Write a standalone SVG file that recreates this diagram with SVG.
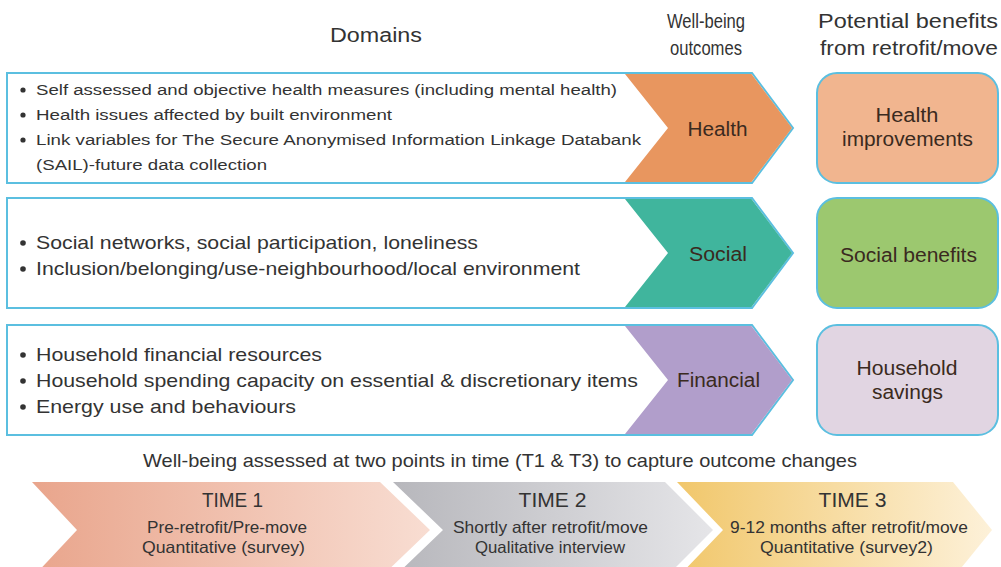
<svg xmlns="http://www.w3.org/2000/svg" width="1001" height="567" viewBox="0 0 1001 567">
<defs>
<style>
text{font-family:"Liberation Sans",Arial,sans-serif;fill:#333}
.hdr{font-size:20px;text-anchor:middle}
.b1{font-size:15.5px}
.b2{font-size:19px}
.lab{font-size:19.5px;text-anchor:middle;fill:#3a2a20}
.outline{fill:#fff;stroke:#5bbfe0;stroke-width:2}
.chev{stroke:none}
.ben{stroke:#5bbfe0;stroke-width:2}
.t{font-size:20px;text-anchor:middle}
.s{font-size:16.5px;text-anchor:middle}
.dot{fill:#333}
</style>
<linearGradient id="g1" x1="0" x2="1" y1="0" y2="0"><stop offset="0" stop-color="#e9a58c"/><stop offset="1" stop-color="#f8ddd2"/></linearGradient>
<linearGradient id="g2" x1="0" x2="1" y1="0" y2="0"><stop offset="0" stop-color="#b7b7bc"/><stop offset="1" stop-color="#e5e5e8"/></linearGradient>
<linearGradient id="g3" x1="0" x2="1" y1="0" y2="0"><stop offset="0" stop-color="#f1c76b"/><stop offset="1" stop-color="#fdf1d9"/></linearGradient>
</defs>
<rect width="1001" height="567" fill="#fff"/>
<g id="headers">
<text class="hdr" x="376" y="42" textLength="92" lengthAdjust="spacingAndGlyphs">Domains</text>
<text class="hdr" x="706" y="28" textLength="78" lengthAdjust="spacingAndGlyphs">Well-being</text>
<text class="hdr" x="706" y="55" textLength="72" lengthAdjust="spacingAndGlyphs">outcomes</text>
<text class="hdr" x="908" y="28" textLength="180" lengthAdjust="spacingAndGlyphs">Potential benefits</text>
<text class="hdr" x="909" y="55" textLength="178" lengthAdjust="spacingAndGlyphs">from retrofit/move</text>
</g>
<g id="row-health">
<path class="outline" d="M7 73 H752 L793 128 L752 183 H7 Z"/>
<path class="chev" fill="#e8965f" d="M625 74 H751.5 L792 128 L751.5 182 H625 L668 128 Z"/>
<circle class="dot" cx="23" cy="90" r="2.6"/>
<text class="b1" x="36" y="95" textLength="581" lengthAdjust="spacingAndGlyphs">Self assessed and objective health measures (including mental health)</text>
<circle class="dot" cx="23" cy="115" r="2.6"/>
<text class="b1" x="36" y="120" textLength="356" lengthAdjust="spacingAndGlyphs">Health issues affected by built environment</text>
<circle class="dot" cx="23" cy="140" r="2.6"/>
<text class="b1" x="36" y="145" textLength="605" lengthAdjust="spacingAndGlyphs">Link variables for The Secure Anonymised Information Linkage Databank</text>
<text class="b1" x="36" y="170" textLength="231" lengthAdjust="spacingAndGlyphs">(SAIL)-future data collection</text>
<text class="lab" x="717.5" y="136" textLength="60" lengthAdjust="spacingAndGlyphs">Health</text>
</g>
<g id="row-social">
<path class="outline" d="M7 198 H752 L793 253 L752 308 H7 Z"/>
<path class="chev" fill="#40b59d" d="M625 199 H751.5 L792 253 L751.5 307 H625 L668 253 Z"/>
<circle class="dot" cx="23" cy="243" r="2.8"/>
<text class="b2" x="36" y="249" textLength="442" lengthAdjust="spacingAndGlyphs">Social networks, social participation, loneliness</text>
<circle class="dot" cx="23" cy="269" r="2.8"/>
<text class="b2" x="36" y="275" textLength="544" lengthAdjust="spacingAndGlyphs">Inclusion/belonging/use-neighbourhood/local environment</text>
<text class="lab" x="718" y="261" style="font-size:20px" textLength="58" lengthAdjust="spacingAndGlyphs">Social</text>
</g>
<g id="row-financial">
<path class="outline" d="M7 325 H752 L793 380 L752 435 H7 Z"/>
<path class="chev" fill="#b19ecb" d="M625 326 H751.5 L792 380 L751.5 434 H625 L668 380 Z"/>
<circle class="dot" cx="23" cy="355" r="2.8"/>
<text class="b2" x="36" y="361" textLength="286" lengthAdjust="spacingAndGlyphs">Household financial resources</text>
<circle class="dot" cx="23" cy="381" r="2.8"/>
<text class="b2" x="36" y="387" textLength="602" lengthAdjust="spacingAndGlyphs">Household spending capacity on essential &amp; discretionary items</text>
<circle class="dot" cx="23" cy="407" r="2.8"/>
<text class="b2" x="36" y="413" textLength="260" lengthAdjust="spacingAndGlyphs">Energy use and behaviours</text>
<text class="lab" x="718.5" y="387" textLength="83" lengthAdjust="spacingAndGlyphs">Financial</text>
</g>
<g id="benefit-health">
<rect class="ben" x="817" y="73" width="181" height="110" rx="20" fill="#f1b58f"/>
<text class="lab" x="907" y="122" textLength="63" lengthAdjust="spacingAndGlyphs">Health</text>
<text class="lab" x="907.5" y="146" textLength="131" lengthAdjust="spacingAndGlyphs">improvements</text>
</g>
<g id="benefit-social">
<rect class="ben" x="817" y="198" width="181" height="110" rx="20" fill="#9cc86f"/>
<text class="lab" x="908.5" y="262" textLength="137" lengthAdjust="spacingAndGlyphs">Social benefits</text>
</g>
<g id="benefit-financial">
<rect class="ben" x="817" y="325" width="181" height="110" rx="20" fill="#e1d5e2"/>
<text class="lab" x="907" y="375" textLength="101" lengthAdjust="spacingAndGlyphs">Household</text>
<text class="lab" x="907.5" y="399" textLength="71" lengthAdjust="spacingAndGlyphs">savings</text>
</g>
<text id="timeline-title" x="500" y="467" style="font-size:18.5px;text-anchor:middle" textLength="714" lengthAdjust="spacingAndGlyphs">Well-being assessed at two points in time (T1 &amp; T3) to capture outcome changes</text>
<g id="time1">
<path fill="url(#g1)" d="M32 482 H380 L430 530 L380 578 H32 L77 530 Z"/>
<text class="t" x="232.5" y="507" textLength="61" lengthAdjust="spacingAndGlyphs">TIME 1</text>
<text class="s" x="227" y="533" textLength="160" lengthAdjust="spacingAndGlyphs">Pre-retrofit/Pre-move</text>
<text class="s" x="223.5" y="553" textLength="163" lengthAdjust="spacingAndGlyphs">Quantitative (survey)</text>
</g>
<g id="time2">
<path fill="url(#g2)" d="M393 482 H665 L713 530 L665 578 H393 L443 530 Z"/>
<text class="t" x="552.5" y="507" textLength="68" lengthAdjust="spacingAndGlyphs">TIME 2</text>
<text class="s" x="550.5" y="533" textLength="195" lengthAdjust="spacingAndGlyphs">Shortly after retrofit/move</text>
<text class="s" x="550" y="553" textLength="150" lengthAdjust="spacingAndGlyphs">Qualitative interview</text>
</g>
<g id="time3">
<path fill="url(#g3)" d="M677 482 H953 L992 530 L953 578 H677 L723 530 Z"/>
<text class="t" x="852.5" y="507" textLength="68" lengthAdjust="spacingAndGlyphs">TIME 3</text>
<text class="s" x="849" y="533" textLength="238" lengthAdjust="spacingAndGlyphs">9-12 months after retrofit/move</text>
<text class="s" x="846.5" y="553" textLength="173" lengthAdjust="spacingAndGlyphs">Quantitative (survey2)</text>
</g>
<g id="connectors"/>
</svg>
